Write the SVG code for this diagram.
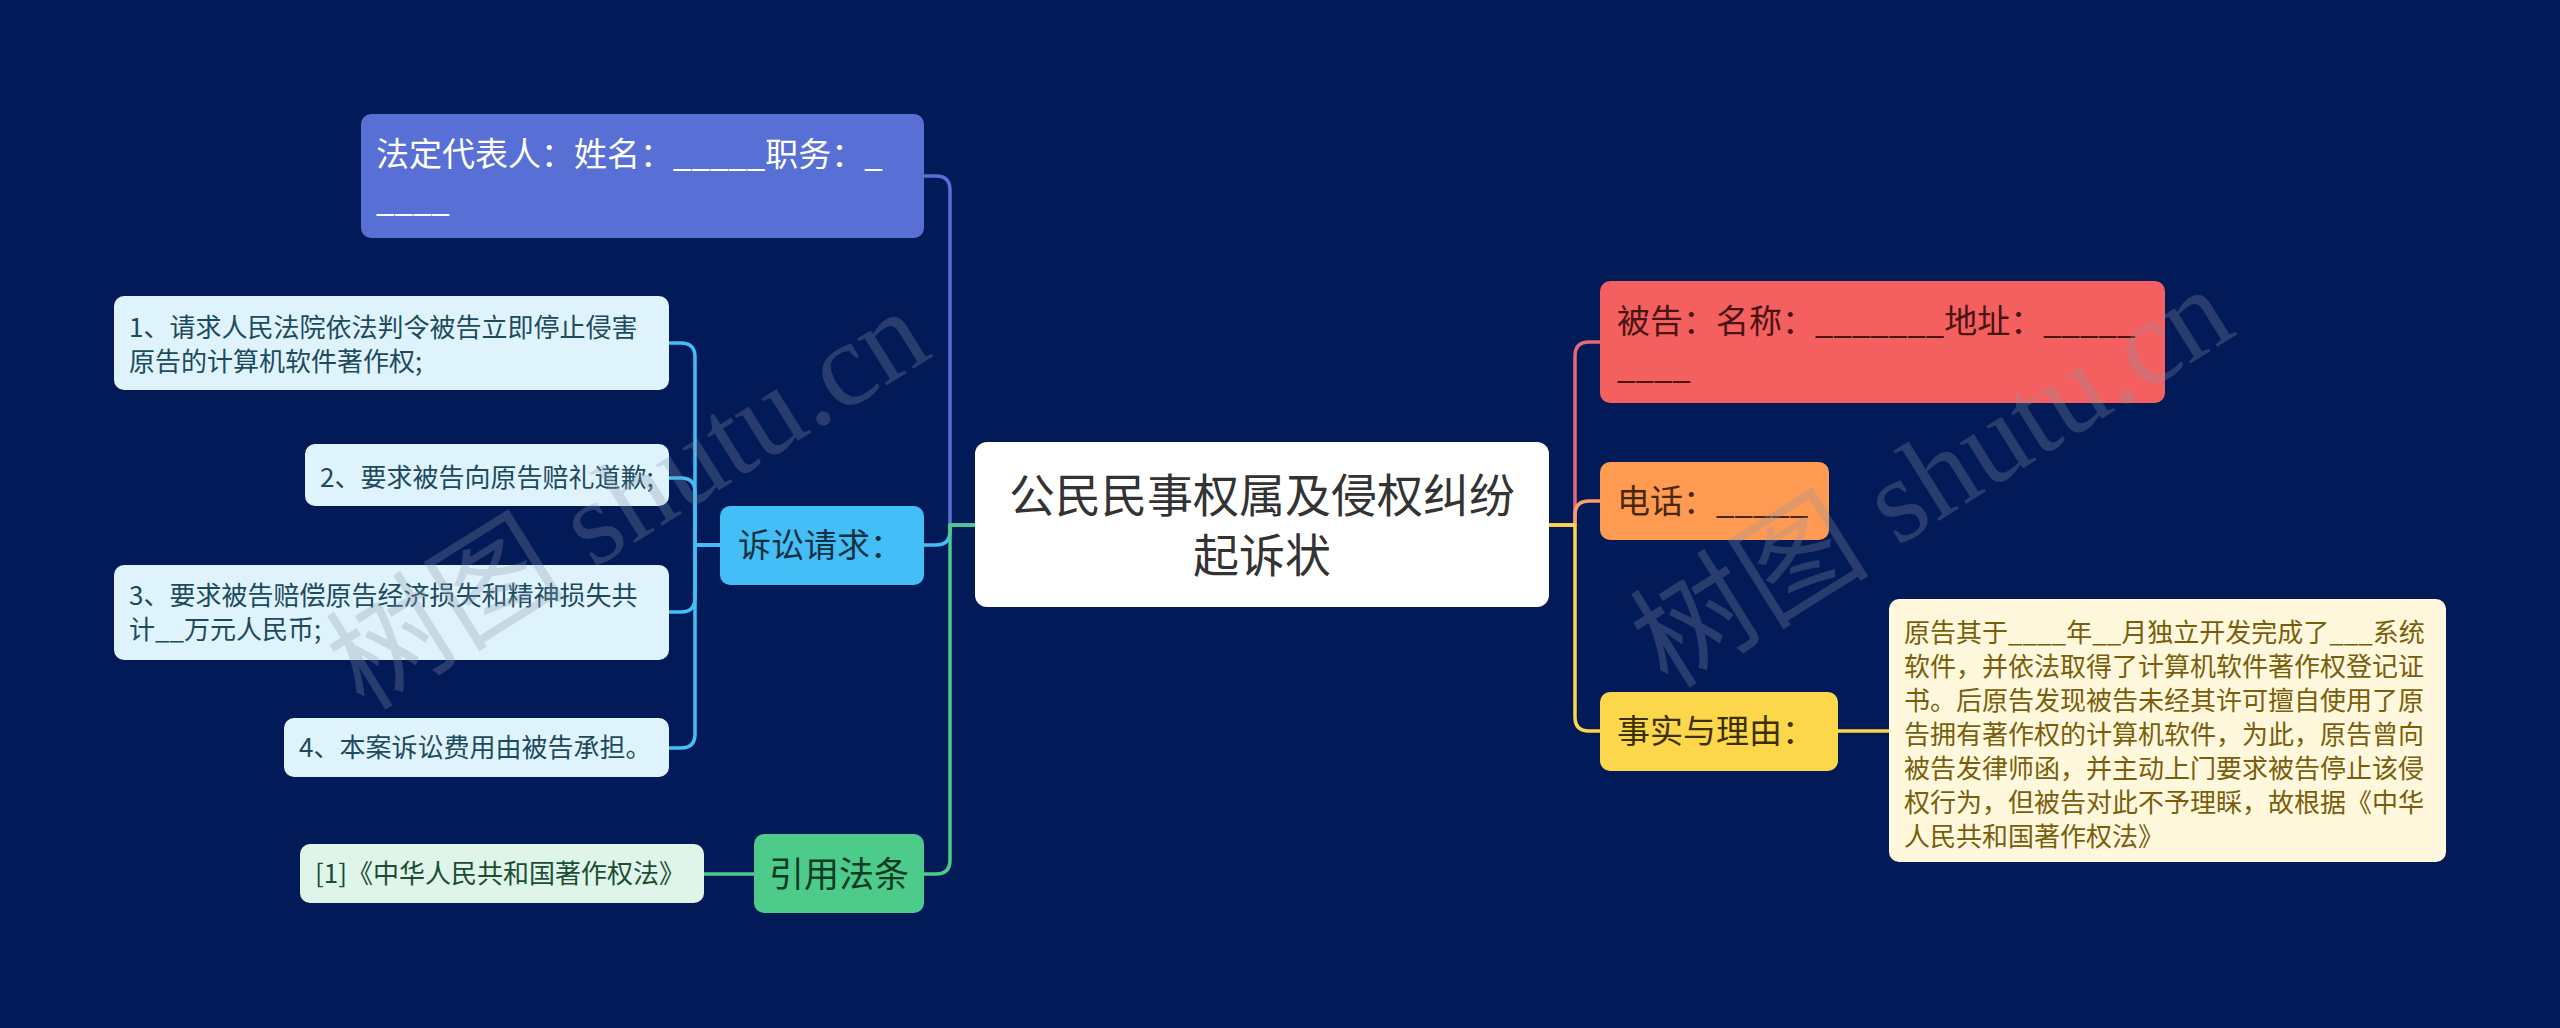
<svg xmlns="http://www.w3.org/2000/svg" width="2560" height="1028" viewBox="0 0 2560 1028">
<defs>
<style>
text{font-family:"Noto Sans CJK SC","Noto Sans",sans-serif;}
.c{fill:none;stroke-width:3.5;stroke-linecap:round;stroke-linejoin:round;}
.t32{font-size:33px;}
.t26{font-size:26px;}
.wm{font-family:"Liberation Serif","Noto Sans CJK SC",serif;font-size:120px;fill:#8a96a8;opacity:0.28;}
</style>
</defs>
<rect width="2560" height="1028" fill="#021b58"/>
<g id="connectors">
<path class="c" stroke="#5870d6" d="M975,525 H950 V190 Q950,176 936,176 H924"/>
<path class="c" stroke="#43bef7" d="M975,525 H950 V531 Q950,545 936,545 H924"/>
<path class="c" stroke="#4ccb8b" d="M975,525 H950 V860 Q950,874 936,874 H924"/>
<path class="c" stroke="#e8687a" d="M1549,525 H1575 V356 Q1575,342 1589,342 H1600"/>
<path class="c" stroke="#f7a06a" d="M1549,525 H1575 V515 Q1575,501 1589,501 H1600"/>
<path class="c" stroke="#fcd64b" d="M1549,525 H1575 V717 Q1575,731 1589,731 H1600"/>
<path class="c" stroke="#43bef7" d="M720,545 H695 V357 Q695,343 681,343 H669"/>
<path class="c" stroke="#43bef7" d="M720,545 H695 V492 Q695,478 681,478 H669"/>
<path class="c" stroke="#43bef7" d="M720,545 H695 V598 Q695,612 681,612 H669"/>
<path class="c" stroke="#43bef7" d="M720,545 H695 V734 Q695,748 681,748 H669"/>
<path class="c" stroke="#4ccb8b" d="M754,874 H704"/>
<path class="c" stroke="#fcd64b" d="M1838,731 H1889"/>
</g>
<g id="root">
<rect x="975" y="442" width="574" height="165" rx="12" fill="#ffffff"/>
<text x="1262" y="512" font-size="46" fill="#333333" text-anchor="middle">公民民事权属及侵权纠纷</text>
<text x="1262" y="572" font-size="46" fill="#333333" text-anchor="middle">起诉状</text>
</g>
<g id="legal-rep">
<rect x="361" y="114" width="563" height="124" rx="10" fill="#5870d6"/>
<text class="t32" x="376" y="166" fill="#ffffff">法定代表人：姓名：_____职务：_</text>
<text class="t32" x="376" y="211" fill="#ffffff">____</text>
</g>
<g id="claims">
<rect x="720" y="506" width="204" height="79" rx="10" fill="#43bef7"/>
<text class="t32" x="738" y="557" fill="#15303f">诉讼请求：</text>
</g>
<g id="claim-1">
<rect x="114" y="296" width="555" height="94" rx="10" fill="#dff3fd"/>
<text class="t26" x="129" y="337" fill="#1d4a5c">1、请求人民法院依法判令被告立即停止侵害</text>
<text class="t26" x="129" y="371" fill="#1d4a5c">原告的计算机软件著作权;</text>
</g>
<g id="claim-2">
<rect x="305" y="444" width="364" height="62" rx="10" fill="#dff3fd"/>
<text class="t26" x="320" y="487" fill="#1d4a5c">2、要求被告向原告赔礼道歉;</text>
</g>
<g id="claim-3">
<rect x="114" y="565" width="555" height="95" rx="10" fill="#dff3fd"/>
<text class="t26" x="129" y="605" fill="#1d4a5c">3、要求被告赔偿原告经济损失和精神损失共</text>
<text class="t26" x="129" y="639" fill="#1d4a5c">计__万元人民币;</text>
</g>
<g id="claim-4">
<rect x="284" y="718" width="385" height="59" rx="10" fill="#dff3fd"/>
<text class="t26" x="299" y="757" fill="#1d4a5c">4、本案诉讼费用由被告承担。</text>
</g>
<g id="law">
<rect x="754" y="834" width="170" height="79" rx="10" fill="#4ccb8b"/>
<text x="839" y="887" font-size="35" fill="#0f3a24" text-anchor="middle">引用法条</text>
</g>
<g id="law-1">
<rect x="300" y="844" width="404" height="59" rx="10" fill="#e0f5ea"/>
<text class="t26" x="315" y="883" fill="#1b4d33">[1]《中华人民共和国著作权法》</text>
</g>
<g id="defendant">
<rect x="1600" y="281" width="565" height="122" rx="10" fill="#f45f5f"/>
<text class="t32" x="1617" y="333" fill="#4a1414">被告：名称：_______地址：_____</text>
<text class="t32" x="1617" y="378" fill="#4a1414">____</text>
</g>
<g id="phone">
<rect x="1600" y="462" width="229" height="78" rx="10" fill="#ff9a52"/>
<text class="t32" x="1617" y="513" fill="#4a2810">电话：_____</text>
</g>
<g id="facts">
<rect x="1600" y="692" width="238" height="79" rx="10" fill="#fcd64b"/>
<text class="t32" x="1617" y="743" fill="#3d3000">事实与理由：</text>
</g>
<g id="facts-detail">
<rect x="1889" y="599" width="557" height="263" rx="10" fill="#fff8dc"/>
<g class="t26" fill="#7a5e0c">
<text x="1904" y="642">原告其于____年__月独立开发完成了___系统</text>
<text x="1904" y="676">软件，并依法取得了计算机软件著作权登记证</text>
<text x="1904" y="710">书。后原告发现被告未经其许可擅自使用了原</text>
<text x="1904" y="744">告拥有著作权的计算机软件，为此，原告曾向</text>
<text x="1904" y="778">被告发律师函，并主动上门要求被告停止该侵</text>
<text x="1904" y="812">权行为，但被告对此不予理睬，故根据《中华</text>
<text x="1904" y="846">人民共和国著作权法》</text>
</g>
</g>
<g id="watermark">
<text class="wm" transform="translate(364,712) rotate(-32)">树图 shutu.cn</text>
<text class="wm" transform="translate(1668,690) rotate(-32)">树图 shutu.cn</text>
</g>
</svg>
